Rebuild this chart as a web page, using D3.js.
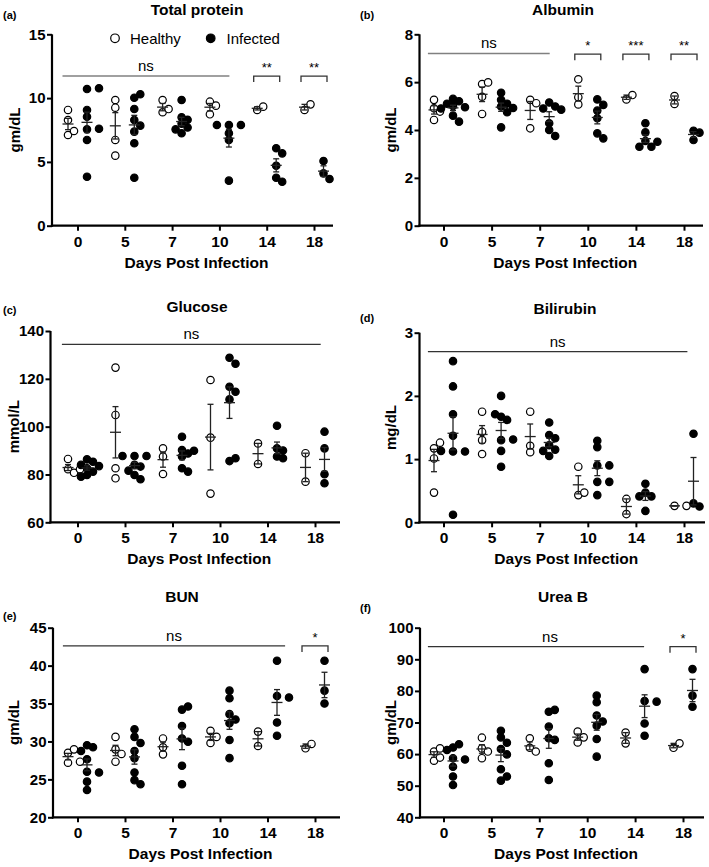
<!DOCTYPE html>
<html><head><meta charset="utf-8">
<script src="https://cdn.jsdelivr.net/npm/d3@7"></script>
<style>
body{margin:0;background:#fff}
svg{display:block}
text{font-family:"Liberation Sans",Arial,Helvetica,sans-serif;fill:#000}
</style>
</head><body>
<svg id="c" width="709" height="867"></svg>
<script>
// ---------- DATA ----------
const days = ["0","5","7","10","14","18"];
const groups = ["Healthy","Infected"];

// (a) Total protein (gm/dL)
const tpTicks = [0,5,10,15];
const tpHealthy  = [[9.07,8.28,7.11,7.42],[9.85,9.25,6.72,5.49],[9.85,8.89,9.14],[9.72,9.41,8.73],[9.07,9.33],[9.07,9.51]];
const tpInfected = [[10.71,10.77,9.07,8.54,7.55,7.6,6.72,3.84],[10.03,10.3,9.15,8.28,7.84,7.37,6.46,3.76],[9.85,8.5,8.3,8.0,7.7,7.55,7.25],[7.89,7.89,7.89,7.24,6.72,3.53],[6.07,5.67,4.7,3.76,3.45],[5.07,4.1,3.66]];

// (b) Albumin (gm/dL)
const alTicks = [0,2,4,6,8];
const alHealthy  = [[4.91,5.26,4.42,4.77],[5.92,5.99,5.39,4.67],[5.26,5.12,4.07],[6.12,5.37,5.07],[5.28,5.46],[5.09,5.42]];
const alInfected = [[5.3,5.2,5.1,5.0,4.95,4.9,4.6,4.35],[5.56,5.26,5.1,4.98,4.92,4.74,4.11],[5.15,4.98,4.9,4.85,4.28,4.0,3.75],[5.28,5.05,4.81,4.49,3.86,3.65],[4.28,3.9,3.54,3.51,3.3,3.3],[3.97,3.89,3.58]];

// (c) Glucose (mmol/L)
const glTicks = [60,80,100,120,140];
const glHealthy  = [[86.5,82.2,80.7,82.2],[124.7,104.9,82.6,78.4],[90.9,87.5,80.2],[119.5,95.4,72.0],[93.0,84.4],[88.9,77.0]];
const glInfected = [[86.3,85.3,84.0,83.5,82.6,81.2,79.8,79.1],[87.7,87.7,87.7,84.0,83.3,81.6,79.8,78.0],[95.8,90.2,89.9,88.8,87.5,82.6,81.2],[128.8,126.3,116.7,114.6,111.4,85.6,86.8],[100.4,90.9,90.0,87.5,86.8],[97.9,90.9,80.1,76.3]];

// (d) Bilirubin (mg/dL)
const biTicks = [0,1,2,3];
const biHealthy  = [[1.17,1.26,1.01,0.47],[1.75,1.43,1.30,1.08],[1.75,1.21,1.11],[0.88,0.43,0.47],[0.37,0.13],[0.26,0.26]];
const biInfected = [[2.55,2.15,1.71,1.37,1.12,1.12,1.13,0.12],[2.0,1.67,1.62,1.71,1.30,1.31,1.13,0.88],[1.58,1.38,1.33,1.22,1.15,1.13,1.05],[1.29,1.19,0.90,0.90,0.64,0.64,0.43],[0.61,0.47,0.41,0.41,0.18],[1.40,0.30,0.25]];

// (e) BUN (gm/dL)
const buTicks = [20,25,30,35,40,45];
const buHealthy  = [[28.5,28.96,27.2,27.33],[30.6,28.96,28.35,27.33],[30.4,29.23,28.3],[31.4,30.6,29.8],[31.3,29.4],[29.1,29.67]];
const buInfected = [[29.5,29.23,28.74,27.65,26.0,25.9,24.7,23.6],[31.6,30.6,29.8,28.74,27.8,25.9,24.9,24.35],[34.2,34.6,32.04,30.4,29.97,26.8,24.35],[36.7,35.7,33.6,32.9,32.4,30.2,27.8],[40.65,36.0,35.8,32.5,30.76],[40.65,36.7,35.0]];

// (f) Urea B (gm/dL)
const urTicks = [40,50,60,70,80,90,100];
const urHealthy  = [[60.8,61.8,57.9,58.9],[65.2,61.8,60.8,58.7],[65.0,62.0,60.8],[67.1,65.3,63.7],[66.8,63.4],[62.0,63.4]];
const urInfected = [[62.1,63.1,61.3,58.7,58.3,56.0,52.9,50.2],[67.4,65.3,63.6,61.6,59.9,55.2,51.6,52.9],[73.4,74.0,68.7,65.0,64.5,57.1,51.8],[78.5,76.4,72.2,70.3,69.0,64.8,59.2],[86.9,76.8,76.6,69.7,65.8],[86.9,78.5,75.0]];

// significance annotations
const tpSig = [{type:"ns", from:"0", to:"10", y:11.73, d1:-15, d2:10}, {type:"br", day:"14", y:11.73, label:"**"}, {type:"br", day:"18", y:11.73, label:"**"}];
const alSig = [{type:"ns", from:"0", to:"7", y:7.2, d1:-15.6, d2:10}, {type:"br", day:"10", y:7.17, label:"*"}, {type:"br", day:"14", y:7.17, label:"***"}, {type:"br", day:"18", y:7.17, label:"**"}];
const glSig = [{type:"ns", from:"0", to:"18", y:134.4, d1:-15.6, d2:5.7}];
const biSig = [{type:"ns", from:"0", to:"18", y:2.70, d1:-15.6, d2:3.4}];
const buSig = [{type:"ns", from:"0", to:"14", y:42.6, d1:-14.6, d2:17.6}, {type:"br", day:"18", y:42.6, label:"*"}];
const urSig = [{type:"ns", from:"0", to:"14", y:94.0, d1:-15.6, d2:9, ldx:14}, {type:"br", day:"18", y:94.0, label:"*"}];

// ---------- LAYOUT ----------
const panels = [
  {tag:"(a)", tagX:3, tagY:19, title:"Total protein", titleX:197, titleY:15, ylab:"gm/dL", ylabX:20, H:tpHealthy, I:tpInfected, ticks:tpTicks, sig:tpSig, nsColor:"#808080",
   axL:52, axR:333, tr:[77.5,314], yb:225.7, yt:34.3, legend:true},
  {tag:"(b)", tagX:360, tagY:19, title:"Albumin", titleX:563, titleY:15, ylab:"gm/dL", ylabX:396, H:alHealthy, I:alInfected, ticks:alTicks, sig:alSig, nsColor:"#808080",
   axL:419.5, axR:703, tr:[443.5,684], yb:225.7, yt:34.3},
  {tag:"(c)", tagX:3, tagY:314, title:"Glucose", titleX:197, titleY:312, ylab:"mmol/L", ylabX:18.5, H:glHealthy, I:glInfected, ticks:glTicks, sig:glSig, nsColor:"#333",
   axL:50.5, axR:340, tr:[77.5,315], yb:522.3, yt:331},
  {tag:"(d)", tagX:360, tagY:322, title:"Bilirubin", titleX:565, titleY:314, ylab:"mg/dL", ylabX:396, H:biHealthy, I:biInfected, ticks:biTicks, sig:biSig, nsColor:"#333",
   axL:419.5, axR:705, tr:[443.5,684], yb:522.3, yt:332.7},
  {tag:"(e)", tagX:3, tagY:620, title:"BUN", titleX:182, titleY:602, ylab:"gm/dL", ylabX:19, H:buHealthy, I:buInfected, ticks:buTicks, sig:buSig, nsColor:"#333",
   axL:53, axR:340, tr:[77.5,315], yb:817.3, yt:627.7},
  {tag:"(f)", tagX:360, tagY:612, title:"Urea B", titleX:563, titleY:602, ylab:"gm/dL", ylabX:396, H:urHealthy, I:urInfected, ticks:urTicks, sig:urSig, nsColor:"#333",
   axL:420, axR:704, tr:[443.5,683], yb:817.3, yt:627.7}
];

const svg = d3.select("#c");
const R = 3.7, STEP = 6, MIND = 6.2, GOFF = 9.5;

function swarm(vals, cx, y) {
  const placed = [];
  vals.forEach(v => {
    const py = y(v);
    let k = 0, px;
    for (;;) {
      const m = k === 0 ? 0 : (k % 2 ? 1 : -1) * Math.ceil(k / 2);
      px = cx + m * STEP;
      if (placed.every(p => Math.hypot(p.x - px, p.y - py) >= MIND)) break;
      k++;
      if (k > 20) break;
    }
    placed.push({x:px, y:py, v});
  });
  return placed;
}

panels.forEach(P => {
  const g = svg.append("g");
  const lo = P.ticks[0], hi = P.ticks[P.ticks.length - 1];
  const y = d3.scaleLinear().domain([lo, hi]).range([P.yb, P.yt]);
  const x = d3.scalePoint().domain(days).range(P.tr);

  // tag + title
  g.append("text").attr("x", P.tagX).attr("y", P.tagY).attr("font-size", 11).attr("font-weight", "bold").text(P.tag);
  g.append("text").attr("x", P.titleX).attr("y", P.titleY).attr("text-anchor", "middle")
    .attr("font-size", 15.5).attr("font-weight", "bold").text(P.title);

  // y axis
  const yAxis = d3.axisLeft(y).tickValues(P.ticks).tickSize(5).tickPadding(1.5).tickFormat(d3.format("d"));
  const ya = g.append("g").attr("transform", `translate(${P.axL},0)`).call(yAxis);
  ya.select(".domain").attr("stroke", "#000").attr("stroke-width", 2.2).attr("d", `M0,${P.yt}V${P.yb + 1.1}`);
  ya.selectAll(".tick line").attr("stroke", "#000").attr("stroke-width", 2);
  ya.selectAll(".tick text").attr("font-size", 15).attr("font-weight", "bold").attr("fill", "#000")
    .attr("font-family", '"Liberation Sans",Arial,sans-serif');

  // x axis
  const xAxis = d3.axisBottom(x).tickSize(5).tickPadding(5);
  const xa = g.append("g").attr("transform", `translate(0,${P.yb})`).call(xAxis);
  xa.select(".domain").attr("stroke", "#000").attr("stroke-width", 2.2).attr("d", `M${P.axL - 1.1},0H${P.axR}`);
  xa.selectAll(".tick line").attr("stroke", "#000").attr("stroke-width", 2);
  xa.selectAll(".tick text").attr("font-size", 15.5).attr("font-weight", "bold").attr("fill", "#000")
    .attr("font-family", '"Liberation Sans",Arial,sans-serif');

  // axis titles
  g.append("text").attr("x", (P.axL + P.axR) / 2 + 4).attr("y", P.yb + 42).attr("text-anchor", "middle")
    .attr("font-size", 15.5).attr("font-weight", "bold").text("Days Post Infection");
  g.append("text").attr("transform", `translate(${P.ylabX},${(P.yt + P.yb) / 2}) rotate(-90)`)
    .attr("text-anchor", "middle").attr("font-size", 15).attr("font-weight", "bold").text(P.ylab);

  // significance
  P.sig.forEach(s => {
    if (s.type === "ns") {
      const x1 = x(s.from) + s.d1, x2 = x(s.to) + s.d2, yy = y(s.y);
      g.append("line").attr("x1", x1).attr("x2", x2).attr("y1", yy).attr("y2", yy)
        .attr("stroke", P.nsColor).attr("stroke-width", 1.4);
      g.append("text").attr("x", (x1 + x2) / 2 + (s.ldx || 0)).attr("y", yy - 5).attr("text-anchor", "middle")
        .attr("font-size", 15).attr("fill", "#222").text("ns");
    } else {
      const cx = x(s.day), yy = y(s.y);
      g.append("path").attr("d", `M${cx - 13},${yy + 6}V${yy}H${cx + 13}V${yy + 6}`)
        .attr("fill", "none").attr("stroke", "#333").attr("stroke-width", 1.3);
      g.append("text").attr("x", cx).attr("y", yy - 4).attr("text-anchor", "middle")
        .attr("font-size", 13).attr("fill", "#222").text(s.label);
    }
  });

  // points + mean/SEM
  [P.H, P.I].forEach((series, gi) => {
    series.forEach((vals, di) => {
      const cx = x(days[di]) + (gi === 0 ? -GOFF : GOFF);
      const pts = swarm(vals, cx, y);
      g.selectAll(null).data(pts).enter().append("circle")
        .attr("cx", d => d.x).attr("cy", d => d.y).attr("r", R)
        .attr("fill", gi === 0 ? "#fff" : "#000").attr("stroke", "#000").attr("stroke-width", 1.2);
      const m = d3.mean(vals);
      const sem = (d3.deviation(vals) || 0) / Math.sqrt(vals.length);
      const e = g.append("g").attr("stroke", "#222").attr("stroke-width", 1.3).attr("fill", "none");
      e.append("line").attr("x1", cx).attr("x2", cx).attr("y1", y(m - sem)).attr("y2", y(m + sem));
      e.append("line").attr("x1", cx - 5.5).attr("x2", cx + 5.5).attr("y1", y(m)).attr("y2", y(m));
      [m - sem, m + sem].forEach(v => e.append("line").attr("x1", cx - 3).attr("x2", cx + 3).attr("y1", y(v)).attr("y2", y(v)));
    });
  });

  // legend
  if (P.legend) {
    const ly = 38.3;
    [[115, 130, "#fff", groups[0]], [210.7, 226.5, "#000", groups[1]]].forEach(([cx, tx, f, lab]) => {
      g.append("circle").attr("cx", cx).attr("cy", ly).attr("r", 4.3).attr("fill", f).attr("stroke", "#000").attr("stroke-width", 1.2);
      g.append("text").attr("x", tx).attr("y", ly + 5.4).attr("font-size", 15).text(lab);
    });
  }
});
</script>
</body></html>
